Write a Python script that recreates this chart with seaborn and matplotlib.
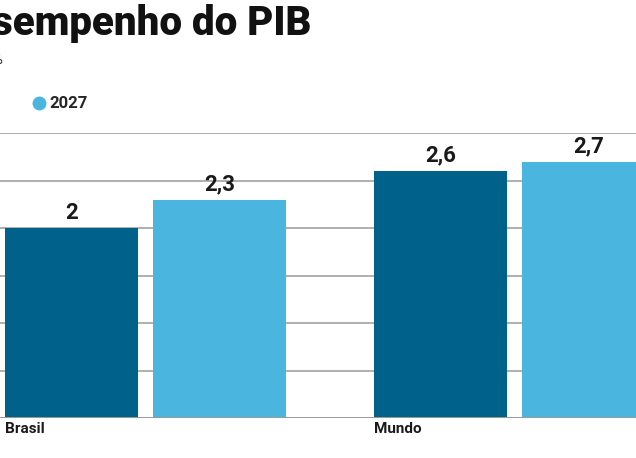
import matplotlib
matplotlib.use("Agg")
import matplotlib.pyplot as plt
import pandas as pd
import seaborn as sns
from matplotlib.lines import Line2D

regions = ["Brasil", "Mundo"]
years = ["2026", "2027"]
growth_2026 = [2.0, 2.6]
growth_2027 = [2.3, 2.7]
grid_ticks = [0.5, 1.0, 1.5, 2.0, 2.5, 3.0]

colors = {"2026": "#00618A", "2027": "#4AB6DF"}

df = pd.DataFrame({
    "regiao": regions * 2,
    "ano": [years[0]] * len(regions) + [years[1]] * len(regions),
    "pib": growth_2026 + growth_2027,
})

sns.set_theme(style="white")
plt.rcParams["font.family"] = ["Roboto", "DejaVu Sans"]

fig = plt.figure(figsize=(6.36, 4.58), dpi=100)
ax = fig.add_axes([0, 40 / 458, 1, 285 / 458])

sns.barplot(data=df, x="regiao", y="pib", hue="ano", palette=colors,
            order=regions, hue_order=years, width=0.8, gap=0.1,
            saturation=1, linewidth=0, edgecolor="none",
            legend=False, ax=ax, zorder=3)

ax.set_xlim(-145.5 / 369, (636 - 145.5) / 369)
ax.set_ylim(0, 3.0)
for t in grid_ticks:
    ax.axhline(t, color="#9a9a9a", lw=1.1, zorder=1)
ax.axhline(0, color="#9a9a9a", lw=1.4, zorder=4)
for s in ax.spines.values():
    s.set_visible(False)
ax.set_xticks([])
ax.set_yticks([])
ax.set_xlabel("")
ax.set_ylabel("")

for cont in ax.containers:
    labels = [f"{v:.1f}".replace(".", ",").replace(",0", "") for v in cont.datavalues]
    ax.bar_label(cont, labels=labels, padding=3, fontsize=16, fontweight="bold",
                 color="#1a1a1a", clip_on=False)

# category labels aligned with first bar's left edge
first = ax.containers[0]
for patch, name in zip(first.patches, regions):
    ax.text(patch.get_x(), -0.045, name, ha="left", va="top",
            fontsize=11, fontweight="bold", color="#1a1a1a")

fig.text(-0.088, 0.992, "Desempenho do PIB", ha="left", va="top",
         fontsize=29, fontweight="heavy", color="#111111")
fig.text(0.004, 0.868, "Em %", ha="right", va="center", fontsize=11, color="#333333")

handle = Line2D([0], [0], marker="o", color="none", markerfacecolor=colors["2027"],
                markeredgecolor="none", markersize=10)
fig.legend([handle], ["2027"], loc="center left", bbox_to_anchor=(0.035, 0.773),
           frameon=False, handletextpad=0.1, borderpad=0, handlelength=1.0,
           prop={"weight": "bold", "size": 12})

fig.savefig("out.png", dpi=100)
